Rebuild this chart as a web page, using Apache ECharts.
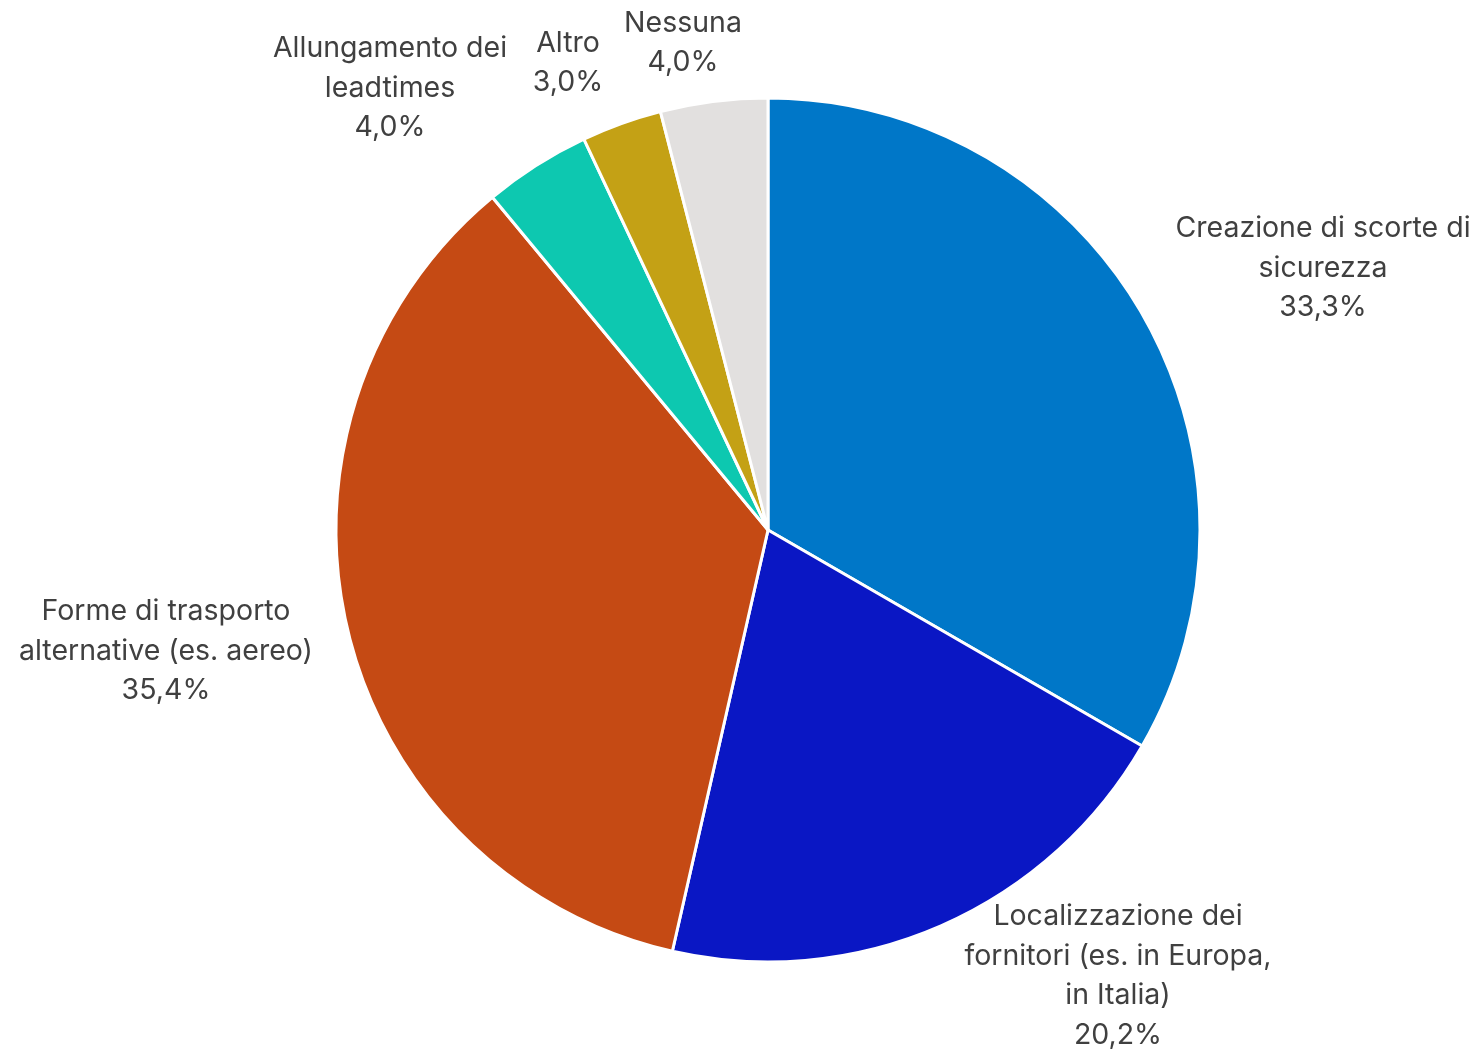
<!DOCTYPE html>
<html>
<head>
<meta charset="utf-8">
<script src="https://cdn.jsdelivr.net/npm/echarts@6/dist/echarts.min.js"></script>
<style>
  html, body { margin: 0; padding: 0; background: #ffffff; }
  #chart { width: 1478px; height: 1051px; }
</style>
</head>
<body>
<div id="chart"></div>
<script>
// Categories (label text, already wrapped) and their shares in percent
const categories = [
  'Creazione di scorte di\nsicurezza',
  'Localizzazione dei\nfornitori (es. in Europa,\nin Italia)',
  'Forme di trasporto\nalternative (es. aereo)',
  'Allungamento dei\nleadtimes',
  'Altro',
  'Nessuna'
];
const shares = [33.3, 20.2, 35.4, 4.0, 3.0, 4.0];
const sliceColors = ['#0077C8', '#0A17C4', '#C54A14', '#0DC8B0', '#C4A115', '#E2E0DF'];

// Centre points of each label block (layout only)
const labelCentres = [
  [1323, 268],
  [1118, 976],
  [166, 651],
  [390, 88],
  [568, 63],
  [683, 43]
];

const fmt = v => v.toFixed(1).replace('.', ',') + '%';

const chart = echarts.init(document.getElementById('chart'), null, { renderer: 'canvas' });
chart.setOption({
  animation: false,
  backgroundColor: '#ffffff',
  series: [{
    type: 'pie',
    center: [768, 530],
    radius: 432,
    startAngle: 90,
    clockwise: true,
    avoidLabelOverlap: false,
    data: categories.map((name, i) => ({
      name: name,
      value: shares[i],
      itemStyle: { color: sliceColors[i] }
    })),
    itemStyle: { borderColor: '#ffffff', borderWidth: 3 },
    label: {
      show: true,
      position: 'outside',
      formatter: p => p.name + '\n' + fmt(p.value),
      color: '#404040',
      fontFamily: 'Inter, sans-serif',
      fontSize: 28.5,
      lineHeight: 39.5,
      align: 'center'
    },
    labelLine: { show: false },
    labelLayout: p => ({
      x: labelCentres[p.dataIndex][0],
      y: labelCentres[p.dataIndex][1],
      align: 'center',
      verticalAlign: 'middle'
    }),
    emphasis: { disabled: true }
  }]
});
</script>
</body>
</html>
